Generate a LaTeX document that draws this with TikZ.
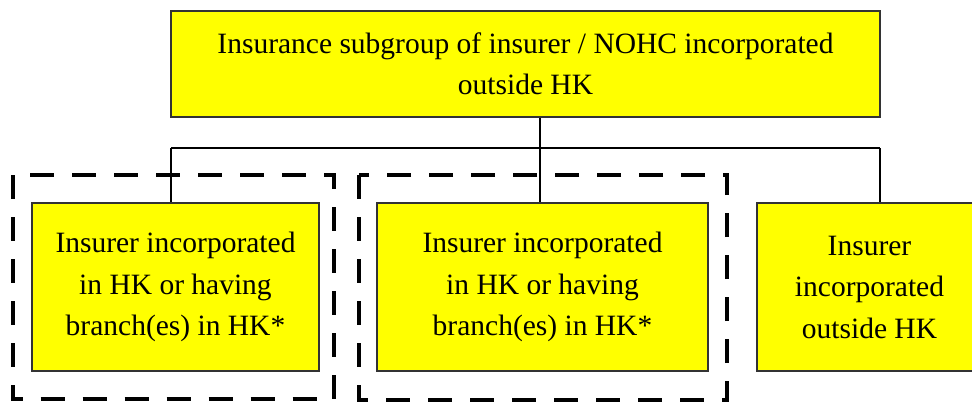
\documentclass[tikz,border=0pt]{standalone}
\usepackage{fontspec}
\setmainfont{Liberation Serif}
\definecolor{boxyellow}{RGB}{255,255,0}
\begin{document}
\begin{tikzpicture}[x=0.5pt, y=-0.5pt, line join=miter,
        box/.style={draw=black!80, fill=boxyellow, line width=0.6pt, align=center,
            inner sep=0pt, font=\fontsize{14.75}{20.75}\selectfont},
        frame/.style={draw=black, line width=2pt, dash pattern=on 12pt off 9pt},
        link/.style={draw=black, line width=0.6pt}]
        \useasboundingbox (0,0) rectangle (972,403);
        \clip (0,0) rectangle (972,403);
        % boxes
        \node[box, minimum width=354.5pt, minimum height=53pt] (group) at (525.5,64)
            {Insurance subgroup of insurer / NOHC incorporated\\outside HK};
        \node[box, minimum width=143.5pt, minimum height=84pt] (ins1) at (175.5,287)
            {Insurer incorporated\\in HK or having\\branch(es) in HK*};
        \node[box, minimum width=165.5pt, minimum height=84pt] (ins2) at (542.5,287)
            {Insurer incorporated\\in HK or having\\branch(es) in HK*};
        \node[box, minimum width=112.5pt, minimum height=84pt] (ins3) at (869.5,287)
            {Insurer\\incorporated\\outside HK};
        % dashed frames
        \draw[frame] (12.5,175) rectangle (334,399);
        \draw[frame] (359,175) rectangle (727,400);
        % connectors
        \coordinate (busL) at (171,148);
        \coordinate (hub) at (540,148);
        \coordinate (busR) at (880,148);
        \draw[link] (busL) -- (busR);
        \draw[link] (hub |- group.south) -- (hub |- ins2.north);
        \draw[link] (busL) -- (busL |- ins1.north);
        \draw[link] (busR) -- (busR |- ins3.north);
    \end{tikzpicture}
\end{document}
